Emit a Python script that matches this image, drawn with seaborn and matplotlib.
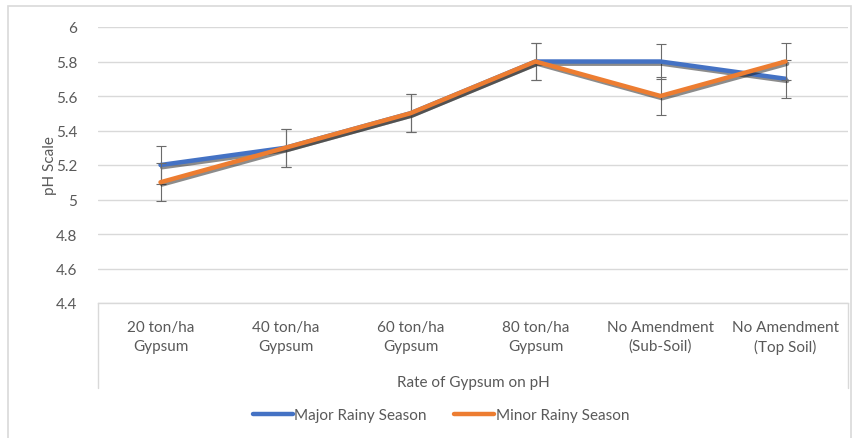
import pandas as pd
import numpy as np
import matplotlib
matplotlib.use('Agg')
import matplotlib.pyplot as plt
import matplotlib.patheffects as pe
from matplotlib.patches import Rectangle
import seaborn as sns

categories = ['20 ton/ha\nGypsum', '40 ton/ha\nGypsum', '60 ton/ha\nGypsum',
              '80 ton/ha\nGypsum', 'No Amendment\n(Sub-Soil)', 'No Amendment\n(Top Soil)']
major_ph = [5.2, 5.3, 5.5, 5.8, 5.8, 5.7]
minor_ph = [5.1, 5.3, 5.5, 5.8, 5.6, 5.8]
major_err = [0.11, 0.11, 0.11, 0.11, 0.10, 0.11]
minor_err = [0.11, 0.11, 0.11, 0.11, 0.11, 0.11]
series_names = ['Major Rainy Season', 'Minor Rainy Season']
y_ticks = [4.4, 4.6, 4.8, 5.0, 5.2, 5.4, 5.6, 5.8, 6.0]

sns.set_theme(style='white')
plt.rcParams['font.family'] = ['Lato', 'DejaVu Sans']

grey_text = '#595959'
grid_col = '#D9D9D9'
colors = {'Major Rainy Season': '#4472C4', 'Minor Rainy Season': '#ED7D31'}
fs = 11

df = pd.DataFrame({
    'pos': list(range(len(categories))) * 2,
    'ph': major_ph + minor_ph,
    'err': major_err + minor_err,
    'season': [series_names[0]] * len(categories) + [series_names[1]] * len(categories),
})

fig = plt.figure(figsize=(8.56, 4.39), dpi=100)
ax = fig.add_axes([98 / 856, 1 - 304 / 439, 750 / 856, 276 / 439])

# error bars first, lines on top
for name, z in zip(series_names, [2, 4]):
    sub = df[df['season'] == name]
    ax.errorbar(sub['pos'], sub['ph'], yerr=sub['err'], fmt='none',
                ecolor='#6b6b6b', elinewidth=0.8, capsize=3.5, capthick=0.8, zorder=z)

shadow = [pe.SimpleLineShadow(offset=(1.2, -1.6), shadow_color='k', alpha=0.5), pe.Normal()]
for name, z in zip(series_names, [3, 5]):
    sns.lineplot(data=df[df['season'] == name], x='pos', y='ph', color=colors[name],
                 linewidth=3.2, ax=ax, zorder=z, label=name, sort=False,
                 path_effects=shadow, solid_capstyle='round')

ax.set_xlim(-0.5, len(categories) - 0.5)
ax.set_ylim(4.4, 6.0)
ax.set_yticks(y_ticks)
ax.set_yticklabels([f'{v:g}' for v in y_ticks], color=grey_text, fontsize=fs)
ax.set_xticks(range(len(categories)))
ax.set_xticklabels(categories, color=grey_text, fontsize=fs, linespacing=1.45)
ax.tick_params(axis='x', length=0, pad=12)
ax.tick_params(axis='y', length=0, pad=15)
ax.grid(axis='y', color=grid_col, linewidth=1)
ax.set_axisbelow(True)
for s in ['top', 'right', 'left']:
    ax.spines[s].set_visible(False)
ax.spines['bottom'].set_color(grid_col)
ax.spines['bottom'].set_linewidth(1)

# category box sides
box_depth = -85 / 276
ax.plot([0, 0], [0, box_depth], transform=ax.transAxes, color=grid_col, lw=1, clip_on=False)
ax.plot([1, 1], [0, box_depth], transform=ax.transAxes, color=grid_col, lw=1, clip_on=False)

ax.set_xlabel('Rate of Gypsum on pH', color=grey_text, fontsize=fs, labelpad=15)
ax.set_ylabel('pH Scale', color=grey_text, fontsize=fs, labelpad=-1)

leg = ax.legend(loc='center', bbox_to_anchor=(441 / 856, 23 / 439), bbox_transform=fig.transFigure,
                ncol=2, frameon=False, fontsize=fs, handlelength=2.6, handletextpad=0.1,
                columnspacing=1.8)
for t in leg.get_texts():
    t.set_color(grey_text)
for h in leg.get_lines():
    h.set_linewidth(3.2)
    h.set_path_effects([])

fig.patches.append(Rectangle((8 / 856, -0.02), 843 / 856, 1.02 - 7 / 439,
                             transform=fig.transFigure, fill=False, edgecolor=grid_col, lw=1.2))

fig.savefig('out.png', dpi=100)
